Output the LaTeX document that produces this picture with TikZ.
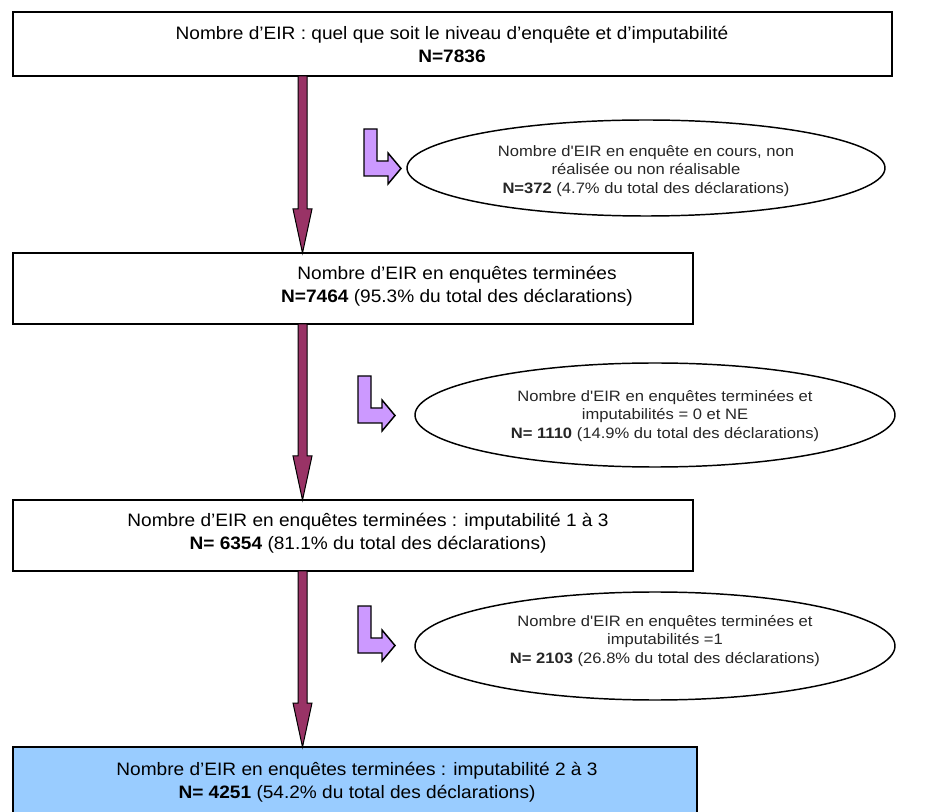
\documentclass[tikz,border=0pt]{standalone}
\usepackage{fontspec}
\setmainfont{Liberation Sans}
\newfontfamily\boxfam[FakeStretch=1.06]{Liberation Sans}
\newfontfamily\ellfam[FakeStretch=1.1]{Liberation Sans}
\usetikzlibrary{shapes.geometric,calc}
\definecolor{plum}{HTML}{993366}
\definecolor{lilac}{HTML}{CC99FF}
\definecolor{lightblue}{HTML}{99CCFF}
\newcommand\boxfont{\boxfam\fontsize{13.5pt}{17.25pt}\selectfont}
\newcommand\ellfont{\ellfam\fontsize{11.3pt}{14pt}\selectfont}
\newcommand\fatarrow[2]{\filldraw[fatstyle] let \p1=(#1), \p2=(#2) in
  (\x1-3.375pt,\y1) -- (\x1+3.375pt,\y1) -- (\x1+3.375pt,\y2+33pt) -- (\x1+7.125pt,\y2+33pt)
  -- (\x2,\y2) -- (\x1-7.125pt,\y2+33pt) -- (\x1-3.375pt,\y2+33pt) -- cycle;}
\newcommand\bentarrow[1]{\filldraw[bentstyle, shift={(#1)}] (0,0) -- (13,0) -- (13,32) -- (24,32)
  -- (24,24) -- (37,39.5) -- (24,55) -- (24,47) -- (0,47) -- cycle;}
\begin{document}
\begin{tikzpicture}[x=0.75pt,y=-0.75pt,
  flowbox/.style={draw=black, line width=1.1pt, rectangle, inner sep=0pt, outer sep=0pt},
  ellbox/.style={draw=black, line width=1.1pt, ellipse, inner sep=0pt, outer sep=0pt},
  boxtext/.style={align=center, inner sep=0pt, font=\boxfont},
  elltext/.style={align=center, inner sep=0pt, font=\ellfont, text=black!85},
  fatstyle/.style={fill=plum, draw=black, line width=0.75pt, line join=miter},
  bentstyle/.style={fill=lilac, draw=black, line width=1.1pt, line join=miter}]
\clip (0,0) rectangle (939,812);
\fill[white] (0,0) rectangle (939,812);
% boxes
\node[flowbox, minimum width=659.25pt, minimum height=48pt] (b1) at (452.5,44) {};
\node[flowbox, minimum width=510pt, minimum height=53.25pt] (b2) at (353,288.5) {};
\node[flowbox, minimum width=510pt, minimum height=53.25pt] (b3) at (353,535.5) {};
\node[flowbox, fill=lightblue, minimum width=513pt, minimum height=62.25pt] (b4) at (355,788.5) {};
% box texts
\node[boxtext] (t1) at (452,44) {Nombre d’EIR : quel que soit le niveau d’enquête et d’imputabilité\\\textbf{N=7836}};
\node[boxtext] (t2) at (457,286) {Nombre d’EIR en enquêtes terminées\\\textbf{N=7464} (95.3\% du total des déclarations)};
\node[boxtext] (t3) at (368,533) {Nombre d’EIR en enquêtes terminées : imputabilité 1 à 3\\\textbf{N= 6354} (81.1\% du total des déclarations)};
\node[boxtext] (t4) at (357,782) {Nombre d’EIR en enquêtes terminées : imputabilité 2 à 3\\\textbf{N= 4251} (54.2\% du total des déclarations)};
% ellipses
\node[ellbox, minimum width=358.5pt, minimum height=72pt] (e1) at (646,168) {};
\node[ellbox, minimum width=360pt, minimum height=78pt] (e2) at (655,415) {};
\node[ellbox, minimum width=360pt, minimum height=81pt] (e3) at (655,646) {};
\node[elltext] (u1) at (646,171) {Nombre d'EIR en enquête en cours, non\\réalisée ou non réalisable\\\textbf{N=372} (4.7\% du total des déclarations)};
\node[elltext] (u2) at (665,416) {Nombre d'EIR en enquêtes terminées et\\imputabilités = 0 et NE\\\textbf{N= 1110} (14.9\% du total des déclarations)};
\node[elltext] (u3) at (665,641) {Nombre d'EIR en enquêtes terminées et\\imputabilités =1\\\textbf{N= 2103} (26.8\% du total des déclarations)};
% main arrows
\coordinate (col) at (302.5,0);
\fatarrow{b1.south -| col}{b2.north -| col}
\fatarrow{b2.south -| col}{b3.north -| col}
\fatarrow{b3.south -| col}{b4.north -| col}
% bent arrows
\bentarrow{364,129}
\bentarrow{358,376}
\bentarrow{358,606}
\end{tikzpicture}
\end{document}
